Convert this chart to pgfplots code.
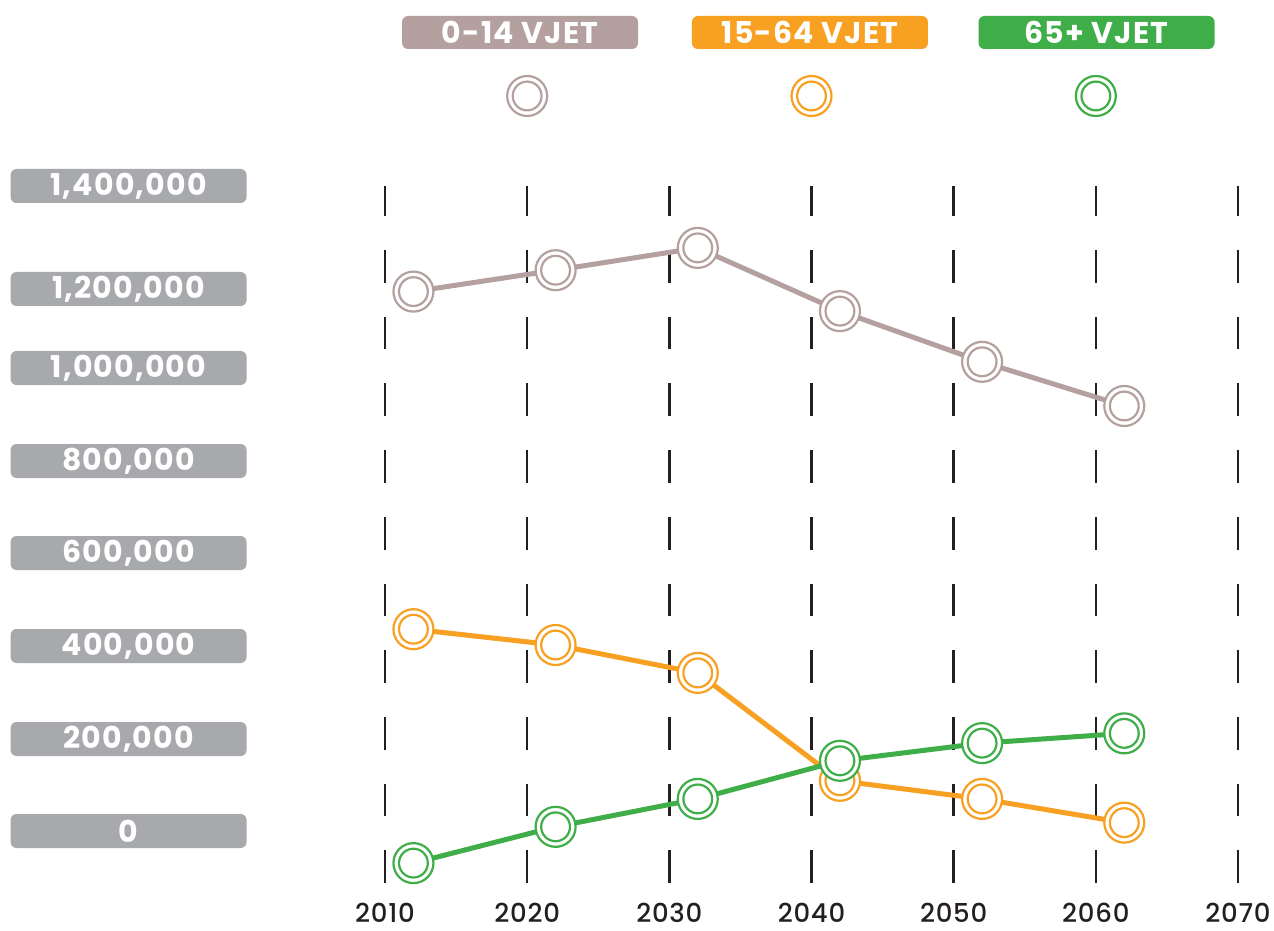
\documentclass[border=0pt]{standalone}
\usepackage{pgfplots}
\pgfplotsset{compat=1.18}
\usepackage{fontspec}
\setmainfont{Poppins}
\newfontfamily\popbold{Poppins Bold}[LetterSpace=4]
\newfontfamily\popmed{Poppins Medium}[LetterSpace=3]
\definecolor{kids}{HTML}{B4A09F}
\definecolor{work}{HTML}{F7A021}
\definecolor{old}{HTML}{3FAE49}
\definecolor{labgrey}{HTML}{A7A9AC}
\definecolor{ink}{HTML}{231F20}

% double circle mark, white inside
\pgfdeclareplotmark{dcirc}{%
  \pgfpathcircle{\pgfpointorigin}{\pgfplotmarksize}\pgfusepath{fill,stroke}%
  \pgfpathcircle{\pgfpointorigin}{0.72\pgfplotmarksize}\pgfusepath{stroke}}

\tikzset{legbox/.style={rounded corners=3pt, minimum width=118pt, minimum height=16.5pt,
  inner sep=0pt, text=white, font=\popbold\fontsize{15}{15}\selectfont}}

\begin{document}
\begin{tikzpicture}
\begin{axis}[
  scale only axis,
  width=426.5pt, height=348.5pt,
  xmin=2010, xmax=2070,
  ymin=-111828, ymax=1387097,
  clip=false,
  scaled y ticks=false,
  axis line style={draw=none},
  major tick length=0pt,
  xtick={2010,2020,...,2070},
  xticklabel style={anchor=north, inner sep=0pt, yshift=-10pt,
    font=\popmed\fontsize{13}{13}\selectfont, text=ink},
  /pgf/number format/1000 sep={},
  /pgf/number format/assume math mode=true,
  xmajorgrids,
  grid style={ink, line width=1.3pt, dash pattern=on 16.35pt off 17pt},
  ytick={0,197849,397849,597849,795699,995699,1165591,1387097},
  yticklabels={{0},{200,000},{400,000},{600,000},{800,000},{1,000,000},{1,200,000},{1,400,000}},
  yticklabel style={anchor=east, xshift=-69pt, fill=labgrey, text=white,
    rounded corners=3pt, minimum width=118pt, minimum height=17pt, inner sep=0pt,
    font=\popbold\fontsize{15}{15}\selectfont},
  every axis plot/.append style={line width=2.5pt, mark=dcirc, mark size=10pt},
]
% 0-14 vjet
\addplot[kids, mark options={draw=kids, fill=white, line width=1.1pt}]
  coordinates {(2012,1160000) (2022,1206000) (2032,1254000) (2042,1118000) (2052,1009000) (2062,914000)};
% 15-64 vjet
\addplot[work, mark options={draw=work, fill=white, line width=1.1pt}]
  coordinates {(2012,434000) (2022,400000) (2032,340000) (2042,108000) (2052,69000) (2062,18000)};
% 65+ vjet
\addplot[old, mark options={draw=old, fill=white, line width=1.1pt}]
  coordinates {(2012,-69000) (2022,9000) (2032,69000) (2042,151000) (2052,189000) (2062,210000)};

% legend
\node[legbox, fill=kids] at (axis cs:2019.5,1717204) {0-14 VJET};
\node[legbox, fill=work] at (axis cs:2039.89,1717204) {15-64 VJET};
\node[legbox, fill=old] at (axis cs:2060.05,1717204) {65+ VJET};
\addplot[only marks, kids, mark options={draw=kids, fill=white, line width=1.1pt}, forget plot]
  coordinates {(2020,1580645)};
\addplot[only marks, work, mark options={draw=work, fill=white, line width=1.1pt}, forget plot]
  coordinates {(2040,1580645)};
\addplot[only marks, old, mark options={draw=old, fill=white, line width=1.1pt}, forget plot]
  coordinates {(2060,1580645)};

% page frame
\path[draw=none] (axis cs:1982.92,-212903) rectangle (axis cs:2072.53,1787097);
\end{axis}
\end{tikzpicture}
\end{document}
